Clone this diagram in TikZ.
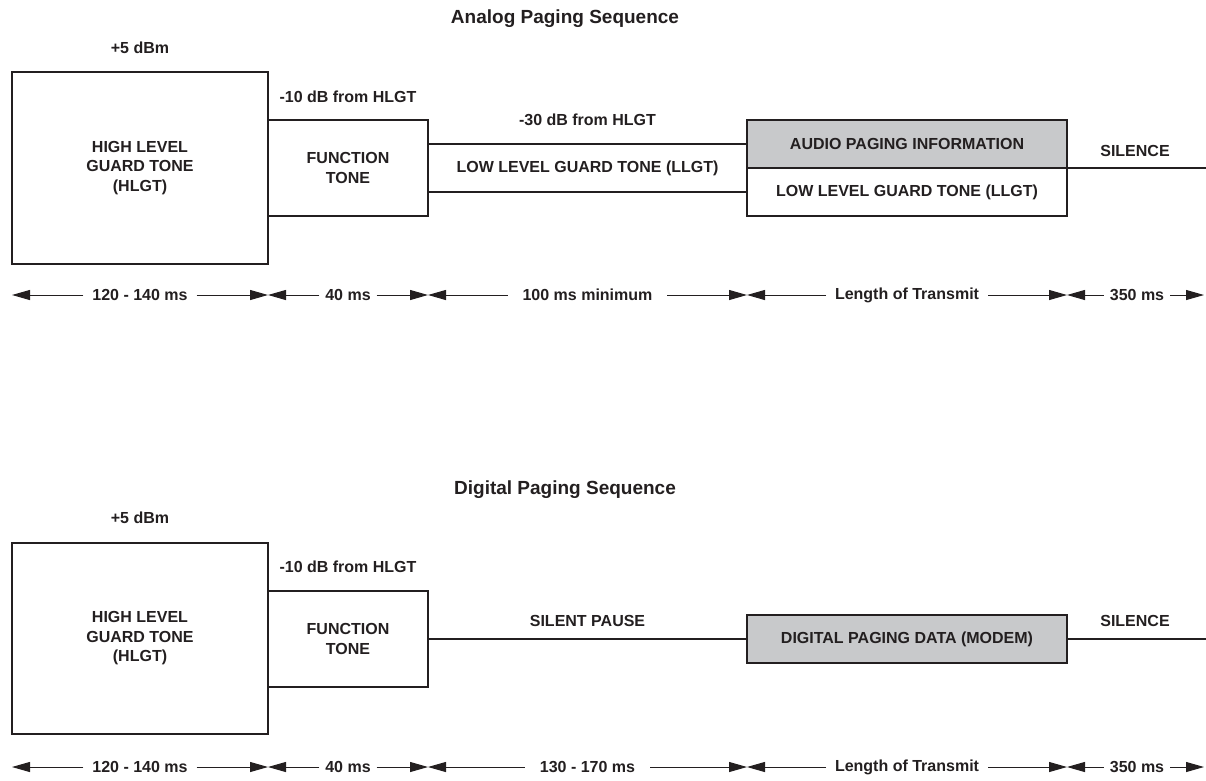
\documentclass[tikz,border=0pt]{standalone}
\usepackage{fontspec}
\setmainfont{Liberation Sans}
\usetikzlibrary{arrows.meta}
\definecolor{ink}{HTML}{231F20}
\definecolor{boxgray}{HTML}{C8C9CB}
\begin{document}
\begin{tikzpicture}[x=1pt,y=-1pt,
  every node/.style={font=\fontsize{16}{19.5}\selectfont\bfseries, text=ink, inner sep=0pt, outer sep=0pt},
  titletext/.style={font=\fontsize{19}{22}\selectfont\bfseries},
  box/.style={draw=ink, line width=1.4pt, align=center},
  wire/.style={draw=ink, line width=1.4pt},
  dimline/.style={draw=ink, line width=1pt, -{Triangle[length=18pt,width=10pt]}},
  dimlbl/.style={inner xsep=9pt}
]
\useasboundingbox (0,0) rectangle (1206,780);

% ================= Analog =================
\node[titletext] (t1) at (565,19) {Analog Paging Sequence};
\node (dbA) at (140,48) {+5 dBm};
\node[box, minimum width=256, minimum height=192] (hA) at (140,168) {HIGH LEVEL\\GUARD TONE\\(HLGT)};
\node (m10A) at (348,97) {-10 dB from HLGT};
\node[box, minimum width=160, minimum height=96] (fA) at (348,168) {FUNCTION\\TONE};
\node (m30A) at (587.5,120) {-30 dB from HLGT};
\node[minimum width=319, minimum height=48] (lA) at (587.5,168) {LOW LEVEL GUARD TONE (LLGT)};
\draw[wire] (lA.north west) -- (lA.north east);
\draw[wire] (lA.south west) -- (lA.south east);
\node[box, fill=boxgray, minimum width=320, minimum height=48] (aA) at (907,144) {AUDIO PAGING INFORMATION};
\node[box, minimum width=320, minimum height=48] (lA2) at (907,192) {LOW LEVEL GUARD TONE (LLGT)};
\node (sA) at (1135,151) {SILENCE};
\coordinate (eA) at (1206,168);
\draw[wire] (aA.south east) -- (eA);

% dimension row analog
\coordinate (a0) at (12,295);
\coordinate (a1) at (268,295);
\coordinate (a2) at (428,295);
\coordinate (a3) at (747,295);
\coordinate (a4) at (1067,295);
\coordinate (a5) at (1204,295);
\node[dimlbl] (ad1) at (140,295) {120 - 140 ms};
\node[dimlbl, inner xsep=6pt] (ad2) at (348,295) {40 ms};
\node[dimlbl, inner xsep=15pt] (ad3) at (587.5,295) {100 ms minimum};
\node[dimlbl] (ad4) at (907,295) {Length of Transmit};
\node[dimlbl, inner xsep=6pt] (ad5) at (1137,295) {350 ms};
\foreach \n/\l/\r in {ad1/a0/a1, ad2/a1/a2, ad3/a2/a3, ad4/a3/a4, ad5/a4/a5}{
  \draw[dimline] (\n.west) -- (\l);
  \draw[dimline] (\n.east) -- (\r);
}

% ================= Digital =================
\node[titletext] (t2) at (565,490) {Digital Paging Sequence};
\node (dbD) at (140,518) {+5 dBm};
\node[box, minimum width=256, minimum height=191] (hD) at (140,638.5) {HIGH LEVEL\\GUARD TONE\\(HLGT)};
\node (m10D) at (348,567) {-10 dB from HLGT};
\node[box, minimum width=160, minimum height=96] (fD) at (348,639) {FUNCTION\\TONE};
\node (spD) at (587.5,621) {SILENT PAUSE};
\node[box, fill=boxgray, minimum width=320, minimum height=48] (dD) at (907,639) {DIGITAL PAGING DATA (MODEM)};
\draw[wire] (fD.east) -- (dD.west);
\node (sD) at (1135,621) {SILENCE};
\coordinate (eD) at (1206,639);
\draw[wire] (dD.east) -- (eD);

% dimension row digital
\coordinate (b0) at (12,767);
\coordinate (b1) at (268,767);
\coordinate (b2) at (428,767);
\coordinate (b3) at (747,767);
\coordinate (b4) at (1067,767);
\coordinate (b5) at (1204,767);
\node[dimlbl] (bd1) at (140,767) {120 - 140 ms};
\node[dimlbl, inner xsep=6pt] (bd2) at (348,767) {40 ms};
\node[dimlbl, inner xsep=15pt] (bd3) at (587.5,767) {130 - 170 ms};
\node[dimlbl] (bd4) at (907,767) {Length of Transmit};
\node[dimlbl, inner xsep=6pt] (bd5) at (1137,767) {350 ms};
\foreach \n/\l/\r in {bd1/b0/b1, bd2/b1/b2, bd3/b2/b3, bd4/b3/b4, bd5/b4/b5}{
  \draw[dimline] (\n.west) -- (\l);
  \draw[dimline] (\n.east) -- (\r);
}
\end{tikzpicture}
\end{document}
